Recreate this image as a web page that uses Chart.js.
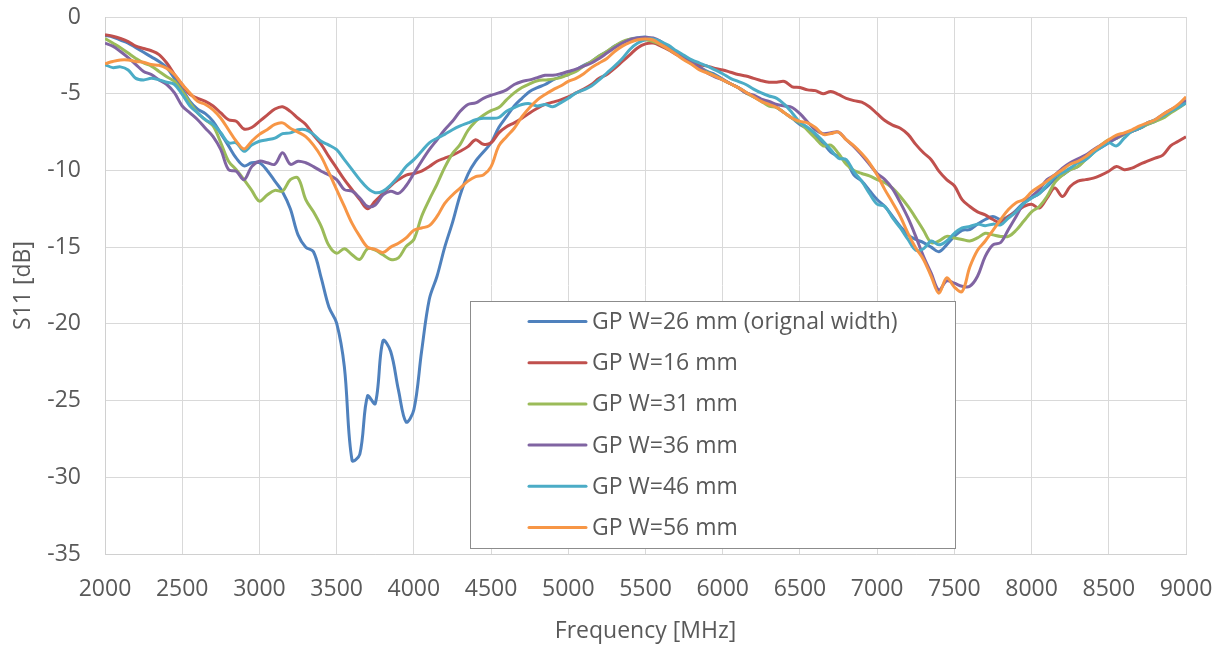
<!DOCTYPE html>
<html>
<head>
<meta charset="utf-8">
<script src="https://cdn.jsdelivr.net/npm/chart.js@4.4.1/dist/chart.umd.min.js"></script>
<style>
  html, body { margin: 0; padding: 0; background: #fff; }
  canvas { display: block; }
</style>
</head>
<body>
<canvas id="chart" width="1220" height="646"></canvas>
<script>
// frequency samples in MHz (50 MHz steps)
const freq = [
  2000, 2050, 2100, 2150, 2200, 2250, 2300, 2350, 2400, 2450,
  2500, 2550, 2600, 2650, 2700, 2750, 2800, 2850, 2900, 2950,
  3000, 3050, 3100, 3150, 3200, 3250, 3300, 3350, 3400, 3450,
  3500, 3550, 3600, 3650, 3700, 3750, 3800, 3850, 3900, 3950,
  4000, 4050, 4100, 4150, 4200, 4250, 4300, 4350, 4400, 4450,
  4500, 4550, 4600, 4650, 4700, 4750, 4800, 4850, 4900, 4950,
  5000, 5050, 5100, 5150, 5200, 5250, 5300, 5350, 5400, 5450,
  5500, 5550, 5600, 5650, 5700, 5750, 5800, 5850, 5900, 5950,
  6000, 6050, 6100, 6150, 6200, 6250, 6300, 6350, 6400, 6450,
  6500, 6550, 6600, 6650, 6700, 6750, 6800, 6850, 6900, 6950,
  7000, 7050, 7100, 7150, 7200, 7250, 7300, 7350, 7400, 7450,
  7500, 7550, 7600, 7650, 7700, 7750, 7800, 7850, 7900, 7950,
  8000, 8050, 8100, 8150, 8200, 8250, 8300, 8350, 8400, 8450,
  8500, 8550, 8600, 8650, 8700, 8750, 8800, 8850, 8900, 8950,
  9000
];

// S11 in dB
const w26 = [
  -1.2, -1.3, -1.5, -1.7, -2.0, -2.3, -2.6, -2.9, -3.3, -4.0,
  -4.7, -5.5, -6.0, -6.3, -6.8, -7.6, -8.4, -9.2, -9.7, -9.5,
  -9.5, -10.0, -10.7, -11.4, -12.5, -14.2, -15.0, -15.3, -17.0, -18.9,
  -19.95, -22.8, -28.9, -28.5, -24.7, -25.2, -21.1, -21.8, -24.3, -26.4,
  -25.6, -21.8, -18.4, -16.9, -15.0, -13.4, -11.6, -10.25, -9.4, -8.8,
  -8.2, -7.2, -6.5, -5.8, -5.3, -4.85, -4.6, -4.4, -4.1, -3.9,
  -3.75, -3.45, -3.15, -2.9, -2.55, -2.25, -1.9, -1.65, -1.45, -1.35,
  -1.3, -1.45, -1.65, -1.95, -2.3, -2.65, -2.95, -3.25, -3.55, -3.75,
  -4.05, -4.35, -4.6, -4.9, -5.2, -5.4, -5.65, -5.9, -6.25, -6.6,
  -7.0, -7.3, -7.7, -8.2, -8.8, -9.1, -9.4, -10.3, -10.7, -11.3,
  -11.9, -12.35, -13.0, -13.65, -14.2, -14.5, -14.7, -15.0, -15.3, -14.85,
  -14.3, -13.9, -13.85, -13.5, -13.2, -13.0, -13.2, -13.0, -12.6, -12.1,
  -11.8, -11.5, -11.05, -10.6, -10.3, -9.95, -9.75, -9.2, -8.75, -8.5,
  -8.2, -7.9, -7.65, -7.45, -7.25, -7.0, -6.8, -6.5, -6.15, -5.85,
  -5.5
];
const w16 = [
  -1.15, -1.25, -1.4, -1.6, -1.9, -2.05, -2.2, -2.45, -3.0, -3.75,
  -4.4, -5.05, -5.3, -5.5, -5.8, -6.25, -6.7, -6.8, -7.3, -7.2,
  -6.8, -6.4, -6.0, -5.85, -6.15, -6.6, -7.0, -7.7, -8.3, -9.1,
  -9.85, -10.6, -11.25, -11.9, -12.5, -12.0, -11.5, -11.0, -10.6, -10.3,
  -10.2, -10.05, -9.75, -9.4, -9.2, -9.0, -8.75, -8.45, -8.0, -8.3,
  -8.2, -7.55, -7.15, -6.9, -6.6, -6.25, -5.95, -5.7, -5.55, -5.4,
  -5.2, -4.95, -4.7, -4.4, -4.0, -3.75, -3.35, -2.9, -2.45, -2.0,
  -1.75, -1.7, -1.9, -2.15, -2.45, -2.65, -2.9, -3.1, -3.2, -3.35,
  -3.45, -3.6, -3.75, -3.85, -4.0, -4.15, -4.25, -4.25, -4.2, -4.55,
  -4.6, -4.75, -4.8, -5.0, -4.85, -5.05, -5.3, -5.45, -5.55, -5.85,
  -6.3, -6.75, -7.05, -7.25, -7.65, -8.3, -8.85, -9.3, -10.05, -10.6,
  -11.0, -11.9, -12.35, -12.7, -12.9, -13.2, -13.4, -13.0, -12.7, -12.35,
  -12.2, -12.45, -11.8, -11.15, -11.7, -11.05, -10.7, -10.6, -10.5, -10.3,
  -10.05, -9.75, -9.95, -9.85, -9.6, -9.4, -9.2, -9.0, -8.4, -8.1,
  -7.8
];
const w31 = [
  -1.4, -1.7, -2.0, -2.35, -2.7, -3.0, -3.2, -3.55, -3.9, -4.2,
  -4.85, -5.6, -6.25, -6.7, -7.1, -8.2, -9.4, -9.95, -10.6, -11.3,
  -12.0, -11.6, -11.3, -11.35, -10.6, -10.5, -11.9, -12.7, -13.65, -14.9,
  -15.4, -15.1, -15.5, -15.8, -15.1, -15.2, -15.5, -15.8, -15.7, -14.95,
  -14.5, -13.0, -11.9, -10.9, -9.8, -8.9, -8.3, -7.4, -6.8, -6.4,
  -6.1, -5.9, -5.4, -4.95, -4.6, -4.35, -4.15, -4.1, -4.05, -3.95,
  -3.75, -3.55, -3.2, -2.9, -2.55, -2.25, -1.9, -1.6, -1.45, -1.42,
  -1.48, -1.6, -1.8, -2.1, -2.4, -2.75, -3.05, -3.35, -3.6, -3.85,
  -4.1, -4.35, -4.6, -4.95, -5.2, -5.5, -5.8, -5.9, -6.25, -6.6,
  -6.9, -7.4, -7.9, -8.4, -8.35, -8.9, -9.6, -10.0, -10.2, -10.35,
  -10.6, -10.8, -11.15, -11.7, -12.35, -13.1, -13.9, -14.7, -14.6, -14.3,
  -14.4, -14.5, -14.6, -14.4, -14.1, -14.2, -14.3, -14.3, -13.9, -13.3,
  -12.7, -12.35, -11.7, -10.8, -10.3, -9.95, -9.75, -9.3, -8.85, -8.35,
  -8.0, -7.9, -7.65, -7.45, -7.25, -7.0, -6.8, -6.6, -6.25, -5.95,
  -5.6
];
const w36 = [
  -1.7, -1.9, -2.25, -2.65, -3.1, -3.55, -3.75, -4.1, -4.4, -4.95,
  -5.8, -6.25, -6.7, -7.25, -7.8, -8.65, -9.95, -10.05, -10.6, -9.75,
  -9.4, -9.5, -9.6, -8.85, -9.6, -9.4, -9.5, -9.75, -10.05, -10.3,
  -10.6, -11.25, -11.35, -11.8, -12.35, -12.25, -11.6, -11.35, -11.5, -11.0,
  -10.2, -9.4, -8.65, -8.0, -7.35, -6.8, -6.15, -5.7, -5.6, -5.3,
  -5.1, -4.95, -4.75, -4.4, -4.2, -4.1, -3.95, -3.8, -3.8, -3.7,
  -3.55, -3.4, -3.2, -3.0, -2.7, -2.35, -2.0, -1.7, -1.48, -1.37,
  -1.33, -1.37, -1.6, -2.0, -2.35, -2.7, -3.0, -3.3, -3.65, -3.9,
  -4.1, -4.35, -4.6, -4.95, -5.1, -5.35, -5.5, -5.7, -5.8, -5.9,
  -6.3, -6.85, -7.35, -7.6, -7.55, -7.5, -8.0, -8.45, -9.0, -9.6,
  -10.2, -10.6, -11.2, -12.1, -13.1, -14.3, -15.6, -16.7, -17.8, -17.2,
  -17.35, -17.55, -17.55, -16.9, -15.6, -14.85, -14.7, -13.85, -13.0, -12.15,
  -11.7, -11.25, -10.6, -10.3, -9.85, -9.5, -9.25, -9.0, -8.65, -8.35,
  -8.1, -7.9, -7.6, -7.45, -7.25, -6.9, -6.7, -6.35, -6.05, -5.8,
  -5.4
];
const w46 = [
  -3.1, -3.3, -3.25, -3.45, -4.0, -4.1, -4.0, -4.1, -4.25, -4.4,
  -5.05, -5.8, -6.25, -6.7, -7.0, -7.55, -8.2, -8.2, -8.75, -8.35,
  -8.1, -8.0, -7.9, -7.6, -7.55, -7.35, -7.35, -7.65, -8.1, -8.35,
  -8.65, -9.3, -9.95, -10.6, -11.15, -11.45, -11.35, -10.95, -10.4, -9.75,
  -9.3, -8.75, -8.2, -7.9, -7.65, -7.35, -7.1, -6.9, -6.7, -6.6,
  -6.6, -6.55, -6.15, -5.9, -5.7, -5.65, -5.8, -5.7, -5.85, -5.6,
  -5.3, -4.95, -4.75, -4.5, -4.1, -3.65, -3.2, -2.7, -2.1, -1.7,
  -1.48, -1.43, -1.6, -1.85, -2.2, -2.5, -2.8, -3.0, -3.2, -3.45,
  -3.7, -4.0, -4.2, -4.4, -4.7, -4.95, -5.15, -5.3, -5.7, -6.25,
  -6.85, -7.2, -7.6, -8.1, -8.65, -9.2, -9.3, -10.1, -10.7, -11.5,
  -12.2, -12.35, -13.1, -13.75, -14.5, -15.2, -15.1, -14.6, -14.85, -14.6,
  -14.1, -13.75, -13.65, -13.5, -13.6, -13.5, -13.55, -13.1, -12.7, -12.15,
  -11.8, -11.5, -10.95, -10.4, -10.15, -9.85, -9.5, -9.3, -8.85, -8.5,
  -8.2, -8.4, -7.9, -7.45, -7.25, -6.9, -6.7, -6.45, -6.15, -5.9,
  -5.6
];
const w56 = [
  -3.05, -2.9, -2.8, -2.8, -2.9, -2.95, -3.1, -3.15, -3.35, -3.75,
  -4.4, -4.95, -5.5, -5.7, -6.05, -6.6, -7.35, -8.1, -8.6, -8.1,
  -7.65, -7.35, -7.0, -6.9, -7.25, -7.5, -7.8, -8.35, -9.1, -10.15,
  -11.25, -12.35, -13.45, -14.3, -15.0, -15.15, -15.35, -15.0, -14.75, -14.4,
  -13.9, -13.75, -13.6, -13.0, -12.15, -11.6, -11.15, -10.7, -10.4, -10.3,
  -9.75, -8.4, -7.8, -7.25, -6.5, -5.9, -5.4, -5.05, -4.75, -4.5,
  -4.2, -4.0, -3.7, -3.3, -3.0, -2.7, -2.25, -1.9, -1.65, -1.48,
  -1.43, -1.5, -1.8, -2.1, -2.45, -2.8, -3.1, -3.45, -3.65, -3.85,
  -4.1, -4.35, -4.6, -4.9, -5.2, -5.5, -5.7, -5.9, -6.25, -6.6,
  -6.8, -6.9, -7.2, -7.65, -7.6, -7.5, -8.0, -8.4, -8.9, -9.5,
  -10.3, -11.25, -12.1, -13.0, -14.1, -15.05, -15.8, -16.9, -18.0, -17.0,
  -17.6, -17.9, -16.3, -15.2, -14.6, -13.9, -13.2, -12.55, -12.1, -11.9,
  -11.4, -11.05, -10.7, -10.3, -9.95, -9.6, -9.4, -9.1, -8.7, -8.35,
  -8.0, -7.7, -7.55, -7.35, -7.1, -6.9, -6.7, -6.35, -6.05, -5.7,
  -5.2
];

const seriesNames = [
  'GP W=26 mm (orignal width)',
  'GP W=16 mm',
  'GP W=31 mm',
  'GP W=36 mm',
  'GP W=46 mm',
  'GP W=56 mm'
];
const seriesColors = ['#4F81BD', '#C0504D', '#9BBB59', '#8064A2', '#4BACC6', '#F79646'];
const seriesValues = [w26, w16, w31, w36, w46, w56];

const TEXT = '#595959';
const FONT = '"Open Sans", "Liberation Sans", sans-serif';

// legend box drawn inside the plot, like the Excel original
const boxLegend = {
  id: 'boxLegend',
  afterDraw(chart) {
    const ctx = chart.ctx;
    ctx.save();
    ctx.fillStyle = '#fff';
    ctx.fillRect(470.5, 301.5, 485, 247);
    ctx.strokeStyle = '#8c8c8c';
    ctx.lineWidth = 1;
    ctx.strokeRect(470.5, 301.5, 485, 247);
    ctx.font = '23px ' + FONT;
    ctx.textBaseline = 'middle';
    chart.data.datasets.forEach((ds, i) => {
      const y = 321.5 + i * 41.2;
      ctx.strokeStyle = ds.borderColor;
      ctx.lineWidth = 3;
      ctx.lineCap = 'round';
      ctx.beginPath();
      ctx.moveTo(529, y);
      ctx.lineTo(586, y);
      ctx.stroke();
      ctx.fillStyle = TEXT;
      ctx.fillText(ds.label, 592, y + 1);
    });
    ctx.restore();
  }
};

new Chart(document.getElementById('chart').getContext('2d'), {
  type: 'line',
  data: {
    labels: freq,
    datasets: seriesValues.map((vals, i) => ({
      label: seriesNames[i],
      data: vals.map((v, j) => ({ x: freq[j], y: v })),
      borderColor: seriesColors[i],
      borderWidth: 3,
      pointRadius: 0,
      tension: 0.35,
      fill: false,
      order: seriesValues.length - i
    }))
  },
  options: {
    responsive: false,
    animation: false,
    layout: { padding: { left: 0, right: 34, top: 17, bottom: 0 } },
    plugins: { legend: { display: false }, tooltip: { enabled: false } },
    scales: {
      x: {
        type: 'linear',
        min: 2000,
        max: 9000,
        afterFit: s => { s.height = 92; s.paddingLeft = 0; s.paddingRight = 0; },
        ticks: {
          stepSize: 500,
          padding: 22,
          color: TEXT,
          font: { family: FONT, size: 23 },
          callback: v => String(v)
        },
        grid: { color: '#D9D9D9', drawTicks: false },
        border: { color: '#D0D0D0' },
        title: { display: true, text: 'Frequency [MHz]', color: TEXT, font: { family: FONT, size: 23 }, padding: { top: 0, bottom: 1 } }
      },
      y: {
        min: -35,
        max: 0,
        afterFit: s => { s.width = 105; s.paddingTop = 0; s.paddingBottom = 0; },
        ticks: { stepSize: 5, padding: 24, color: TEXT, font: { family: FONT, size: 23 } },
        grid: { color: '#D9D9D9', drawTicks: false },
        border: { color: '#D0D0D0' },
        title: { display: true, text: 'S11 [dB]', color: TEXT, font: { family: FONT, size: 23 }, padding: { top: 10, bottom: 0 } }
      }
    }
  },
  plugins: [boxLegend]
});
</script>
</body>
</html>
